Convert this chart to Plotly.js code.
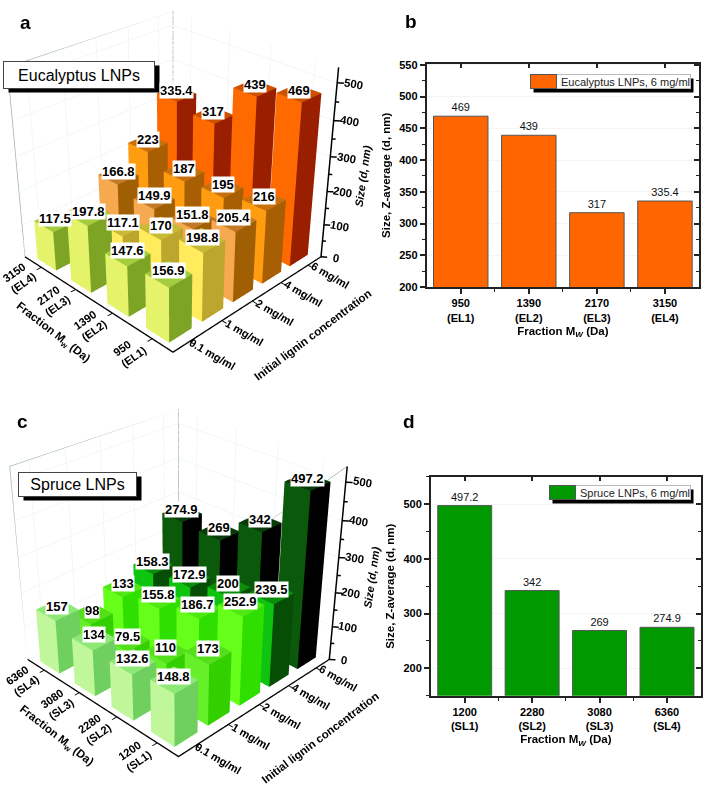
<!DOCTYPE html>
<html><head><meta charset="utf-8">
<script src="https://cdn.plot.ly/plotly-3.0.1.min.js"></script>
<style>html,body{margin:0;padding:0;background:#fff;width:710px;height:788px;overflow:hidden}
#wrap{position:relative;width:710px;height:788px;overflow:hidden}
#chart{position:absolute;left:-300px;top:-300px;width:1400px;height:1400px}</style></head>
<body><div id="wrap"><div id="chart"></div></div>
<script>
const concLabels = ['0.1 mg/ml','1 mg/ml','2 mg/ml','4 mg/ml','6 mg/ml'];
const euFractions = ['950<br>(EL1)','1390<br>(EL2)','2170<br>(EL3)','3150<br>(EL4)'];
const spFractions = ['1200<br>(SL1)','2280<br>(SL2)','3080<br>(SL3)','6360<br>(SL4)'];
const zTicks = [0,100,200,300,400,500];
const zMinor = [50,150,250,350,450];
// rows: fraction, columns: concentration
const euEL1 = [156.9,198.8,205.4,216,469];
const euEL2 = [147.6,170,151.8,195,439];
const euEL3 = [197.8,117.1,149.9,187,317];
const euEL4 = [117.5,100,166.8,223,335.4];
const spSL1 = [148.8,173,252.9,239.5,497.2];
const spSL2 = [132.6,110,186.7,200,342];
const spSL3 = [134,79.5,155.8,172.9,269];
const spSL4 = [157,98,133,158.3,274.9];
const euSix = [469,439,317,335.4];
const spSix = [497.2,342,269,274.9];
const euColors = [
 {l:'#E4F36A',r:'#7EA426',t:'#A3CC3E'},
 {l:'#FFEB5C',r:'#BDA62E',t:'#C9BA36'},
 {l:'#F6A94E',r:'#A05F02',t:'#C27A28'},
 {l:'#FF9C10',r:'#A85E02',t:'#C9700E'},
 {l:'#FF6A00',r:'#9A1E00',t:'#CC5200'}];
const spColors = [
 {l:'#BFF79A',r:'#6FCF5F',t:'#8EE878'},
 {l:'#66F02A',r:'#33D000',t:'#55DE1A'},
 {l:'#66FF1A',r:'#2FDF00',t:'#50E812'},
 {l:'#0FC40F',r:'#064E06',t:'#0B8C0B'},
 {l:'#0B5A0B',r:'#000000',t:'#093A09'}];

const OX=300,OY=300,FW=1400,FH=1400, FONT='"Liberation Sans",Arial,sans-serif';
const nx=x=>(x+OX)/FW, ny=y=>1-(y+OY)/FH;
const px=(a,b)=>[nx(a),nx(b)], py=(top,bot)=>[ny(bot),ny(top)];
const XR=[-0.5,4.5],YR=[-0.5,3.5],ZR=[0,540],BX=0.68,BY=0.56;
const PAD=2.5, ZASP=0.973;
const traces=[];
const mkCamera=()=>{
  const p=30.3*Math.PI/180, e=[-2.713,-2.713,2.092], t=2.4;
  return {eye:{x:e[0],y:e[1],z:e[2]},
    center:{x:e[0]+t*Math.cos(p)*Math.SQRT1_2,y:e[1]+t*Math.cos(p)*Math.SQRT1_2,z:e[2]-t*Math.sin(p)},
    up:{x:0,y:0,z:1},projection:{type:'perspective'}};
};
function bars3d(rows,colors,scene){
  const anns=[];
  colors.forEach((c,ci)=>{
    const xs=[],ys=[],zs=[],I=[],J=[],K=[],fc=[];
    rows.forEach((row,ri)=>{
      const v=row[ci],x0=ci-BX/2,x1=ci+BX/2,y0=ri-BY/2,y1=ri+BY/2,n=xs.length;
      [[x0,y0,0],[x1,y0,0],[x1,y1,0],[x0,y1,0],[x0,y0,v],[x1,y0,v],[x1,y1,v],[x0,y1,v]].forEach(p=>{xs.push(p[0]);ys.push(p[1]);zs.push(p[2]);});
      [[4,5,6,c.t],[4,6,7,c.t],[0,3,7,c.l],[0,7,4,c.l],[0,1,5,c.r],[0,5,4,c.r]].forEach(f=>{I.push(n+f[0]);J.push(n+f[1]);K.push(n+f[2]);fc.push(f[3]);});
      anns.push({depth:ci+ri,x:ci,y:ri,z:v,text:String(v),showarrow:false,bgcolor:'#fff',borderpad:0,yshift:3,font:{family:FONT,size:13,color:'#000',weight:700}});
    });
    traces.push({type:'mesh3d',scene,x:xs,y:ys,z:zs,i:I,j:J,k:K,facecolor:fc,flatshading:true,hoverinfo:'skip',showscale:false,
      lighting:{ambient:1,diffuse:0,specular:0,roughness:1,fresnel:0}});
  });
  anns.sort((a,b)=>b.depth-a.depth).forEach(a=>delete a.depth);
  traces.push({type:'scatter3d',scene,mode:'lines',hoverinfo:'skip',showlegend:false,line:{color:'#9DB3B3',width:1.5},
    x:[XR[0],XR[0],XR[1],XR[1],XR[1]],y:[YR[1],YR[1],YR[1],YR[1],YR[0]],z:[0,ZR[1],ZR[1],0,ZR[1]]});
  return anns;
}
function zOverlay(scene,dom){
  const tx=[XR[1],XR[1],null],ty=[YR[0],YR[0],null],tz=[0,ZR[1],null];
  const add=(z,len)=>{tx.push(XR[1],XR[1]+len,null);ty.push(YR[0],YR[0]-len,null);tz.push(z,z,null);};
  zTicks.forEach(z=>add(z,0.09)); zMinor.forEach(z=>add(z,0.05));
  traces.push({type:'scatter3d',scene,mode:'lines',connectgaps:false,hoverinfo:'skip',showlegend:false,line:{color:'#000',width:3},x:tx,y:ty,z:tz});
  const anns=zTicks.map(z=>({x:XR[1]+0.22,y:YR[0]-0.22,z,text:'<b>'+z+'</b>',showarrow:false,textangle:10,font:{family:FONT,size:11.5,color:'#000'}}));
  const tf={family:FONT,size:11.5,color:'#000'};
  anns.push({x:XR[1]+0.48,y:YR[0]-0.48,z:250,text:'<b><i>Size (d, nm)</i></b>',showarrow:false,textangle:-82,font:{family:FONT,size:11,color:'#000'}});
  anns.push({x:XR[0]-1.35,y:1.3,z:0,text:'<b>Fraction M<sub>w</sub> (Da)</b>',showarrow:false,textangle:38,font:tf});
  anns.push({x:2,y:YR[0]-1.35,z:0,text:'<b>Initial lignin concentration</b>',showarrow:false,textangle:-37,font:tf});
  const off={visible:false,showbackground:false,showgrid:false,zeroline:false,showline:false,showticklabels:false,ticks:'',title:{text:''},showspikes:false};
  const xr=[XR[0]-PAD,XR[1]+PAD],yr=[YR[0]-PAD,YR[1]+PAD];
  return {domain:dom,camera:mkCamera(),aspectmode:'manual',
    aspectratio:{x:(xr[1]-xr[0])/(XR[1]-XR[0]),y:(yr[1]-yr[0])/(YR[1]-YR[0]),z:ZASP},annotations:anns,
    xaxis:{...off,range:xr},yaxis:{...off,range:yr},zaxis:{...off,range:ZR}};
}
function sceneCfg(rows,colors,name,fr,dom){
  const anns=bars3d(rows,colors,name);
  const common={showbackground:true,backgroundcolor:'#fff',gridcolor:'#E8EFEF',gridwidth:1,zeroline:false,showspikes:false,
    showline:true,linecolor:'#000',linewidth:3,ticks:'outside',tickcolor:'#000',ticklen:5,tickwidth:2,
    tickfont:{family:FONT,size:11.5,color:'#000',weight:700},showticklabels:true,title:{text:''}};
  return {domain:dom,camera:mkCamera(),
    aspectmode:'manual',aspectratio:{x:1,y:1,z:ZASP},annotations:anns,
    xaxis:{...common,range:XR,tickmode:'array',tickvals:concLabels.map((_,i)=>i),ticktext:concLabels,tickangle:30},
    yaxis:{...common,range:YR,tickmode:'array',tickvals:fr.map((_,i)=>i),ticktext:fr,tickangle:-35},
    zaxis:{...common,range:ZR,tickmode:'array',tickvals:zTicks,ticktext:zTicks.map(String),showline:false,ticks:'',showticklabels:false}};
}
const domOf=(cx,cy,h)=>({x:px(cx-h/2,cx+h/2),y:py(cy-h/2,cy+h/2)});
const domA=domOf(173,196,800), domC=domOf(178,597,815);
const layout={width:FW,height:FH,margin:{l:0,r:0,t:0,b:0},paper_bgcolor:'#fff',plot_bgcolor:'#fff',showlegend:false,
  scene:sceneCfg([euEL1,euEL2,euEL3,euEL4],euColors,'scene',euFractions,domA),
  scene2:sceneCfg([spSL1,spSL2,spSL3,spSL4],spColors,'scene2',spFractions,domC),
  scene3:zOverlay('scene3',domA),
  scene4:zOverlay('scene4',domC),
  shapes:[],annotations:[]};

function note(text,x,y,size,extra){layout.annotations.push(Object.assign({xref:'paper',yref:'paper',xanchor:'left',yanchor:'top',x:nx(x),y:ny(y),text,showarrow:false,borderpad:0,font:{family:FONT,size,color:'#000'}},extra||{}));}
function panel2d(n,vals,frs,color,name,dx,dy,range,dtick,mtick,b){
  const xn=n===1?'':n, yn=n===1?'':n, mn=n+1, xa='x'+xn, ya='y'+yn, x2='x'+mn, y2='y'+mn;
  const idx=vals.map((_,i)=>i);
  traces.push({type:'bar',x:idx,y:vals,xaxis:xa,yaxis:ya,width:0.8,name,showlegend:false,
    marker:{color,line:{color:'#555',width:1}},text:vals.map(String),textposition:'outside',cliponaxis:false,
    textfont:{family:FONT,size:11,color:'#111'},hoverinfo:'skip'});
  traces.push({type:'scatter',x:[0],y:[range[0]],xaxis:x2,yaxis:y2,mode:'none',showlegend:false,hoverinfo:'skip'});
  const tf={family:FONT,size:11,color:'#000',weight:700};
  layout['xaxis'+xn]={domain:dx,anchor:ya,range:[-0.5,3.5],tickmode:'array',tickvals:idx,ticktext:frs,ticks:'outside',ticklen:5,tickwidth:1.5,tickcolor:'#222',
    showline:true,linecolor:'#222',linewidth:2,showgrid:false,zeroline:false,tickfont:tf,
    minor:{tickmode:'array',tickvals:[0.5,1.5,2.5],ticks:'outside',ticklen:3,tickcolor:'#222',tickwidth:1},
    title:{text:'<b>Fraction M<sub><i>W</i></sub> (Da)</b>',font:{family:FONT,size:11.5,color:'#000'},standoff:4}};
  layout['yaxis'+yn]={domain:dy,anchor:xa,range,tickmode:'linear',dtick,tick0:range[0]-range[0]%dtick,ticks:'outside',ticklen:5,tickwidth:1.5,tickcolor:'#222',
    showline:true,linecolor:'#222',linewidth:2,showgrid:true,gridcolor:'#F3F6F6',zeroline:false,tickfont:tf,
    minor:{dtick:mtick,ticks:'outside',ticklen:3,tickcolor:'#222',tickwidth:1,showgrid:false},
    title:{text:'<b>Size, Z-average (d, nm)</b>',font:{family:FONT,size:11.5,color:'#000'},standoff:6}};
  layout['xaxis'+mn]={domain:dx,anchor:y2,overlaying:xa,side:'top',range:[-0.5,3.5],tickmode:'array',tickvals:idx,ticktext:frs,showticklabels:false,
    ticks:'inside',ticklen:4,tickwidth:1.5,tickcolor:'#222',showline:true,linecolor:'#222',linewidth:2,showgrid:false,zeroline:false};
  layout['yaxis'+mn]={domain:dy,anchor:x2,overlaying:ya,side:'right',range,tickmode:'linear',dtick,tick0:range[0]-range[0]%dtick,showticklabels:false,
    ticks:'inside',ticklen:5,tickwidth:1.5,tickcolor:'#222',showline:true,linecolor:'#222',linewidth:2,showgrid:false,zeroline:false,
    minor:{dtick:mtick,ticks:'inside',ticklen:3,tickcolor:'#222',tickwidth:1,showgrid:false}};
  note(' ',b.x+3,b.y+4,11,{width:b.w,height:b.h,bgcolor:'#000'});
  note(name,b.x,b.y,11,{width:b.w,height:b.h,bgcolor:'#fff',bordercolor:'#bbb',borderwidth:1,align:'right',font:{family:FONT,size:11,color:'#222'}});
  note(' ',b.x,b.y,11,{width:25,height:b.h,bgcolor:color,bordercolor:'#555',borderwidth:1});
}
panel2d(1,euSix,euFractions,'#FF6600','Eucalyptus LNPs, 6 mg/ml',px(426.7,699),py(63.5,287),[200,552],50,25,{x:530,y:74,w:159,h:13});
panel2d(3,spSix,spFractions,'#009900','Spruce LNPs, 6 mg/ml',px(431,700.7),py(476.7,695.7),[150,550],100,50,{x:549,y:485,w:140,h:13});

['a','b','c','d'].forEach((t,i)=>{const p=[[19,11],[404,10],[16,410],[402,410]][i];note('<b>'+t+'</b>',p[0],p[1],19);});
function boxed(text,x,y,w,h){
  note(' ',x+5,y+4,12,{width:w,height:h,bgcolor:'#000'});
  note(text,x,y,16,{width:w,height:h,bgcolor:'#fff',bordercolor:'#444',borderwidth:1,align:'center'});
}
boxed('Eucalyptus LNPs',3,61,150,26);
boxed('Spruce LNPs',18,472,117,23);
Plotly.newPlot('chart',traces,layout,{displayModeBar:false});
</script></body></html>
